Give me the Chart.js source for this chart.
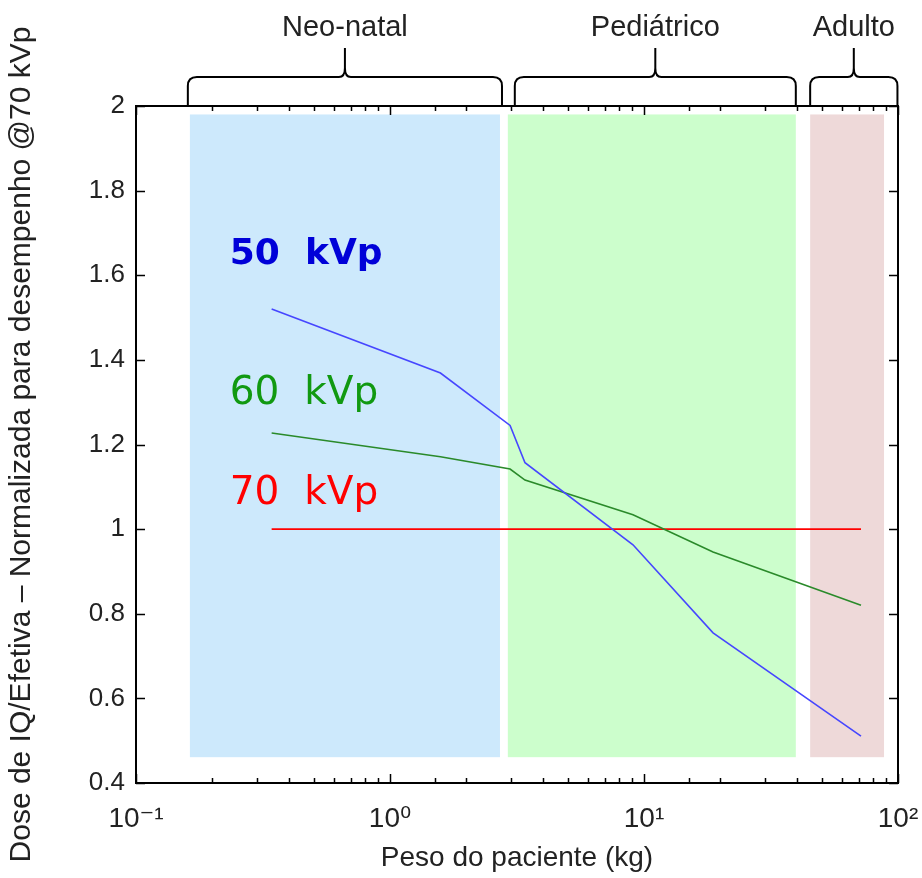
<!DOCTYPE html>
<html><head><meta charset="utf-8">
<script src="https://cdn.jsdelivr.net/npm/chart.js@4.4.0/dist/chart.umd.min.js"></script>
<style>html,body{margin:0;padding:0;background:#fff;}#wrap{width:922px;height:878px;}</style>
</head><body><div id="wrap"><canvas id="c" width="922" height="878"></canvas></div>
<script>
// ---- data ----
const weights = [0.342, 1.58, 2.97, 3.40, 9.05, 18.7, 71.5];
const dose50 = [1.520, 1.369, 1.245, 1.157, 0.963, 0.755, 0.511];
const dose60 = [1.227, 1.171, 1.142, 1.116, 1.034, 0.946, 0.820];
const dose70 = [1, 1, 1, 1, 1, 1, 1];
const seriesNames = ['50  kVp', '60  kVp', '70  kVp'];
const groupNames = ['Neo-natal', 'Pediátrico', 'Adulto'];
const groupStart = [0.163, 2.91, 45.1];
const groupEnd = [2.71, 39.6, 88.1];
const braceStart = [0.160, 3.10, 45.1];
const braceEnd = [2.76, 39.6, 99.5];
const groupYMin = 0.461, groupYMax = 1.98;
const yTickValues = [0.4, 0.6, 0.8, 1, 1.2, 1.4, 1.6, 1.8, 2];

// ---- styles ----
const lineColors = ['#4646ff', '#2a8a2a', '#ff0000'];
const labelColors = ['#0000d8', '#119911', '#ff0000'];
const labelFonts = ['bold 36px "DejaVu Sans"', '39px "DejaVu Sans"', '39px "DejaVu Sans"'];
const labelAnchorX = 0.234;
const labelAnchorY = [1.627, 1.296, 1.060];
const groupColors = ['#cde9fc', '#ccfecc', '#eed9d9'];
const FONT = '"Liberation Sans", Arial, "DejaVu Sans", sans-serif';

const supMap = {'-':'\u207B','0':'\u2070','1':'\u00B9','2':'\u00B2','3':'\u00B3'};
const sup = n => String(n).split('').map(c => supMap[c]).join('');
const isPow10 = v => { const e = Math.log10(v); return Math.abs(e - Math.round(e)) < 1e-6; };

const toPts = ys => weights.map((w, i) => ({x: w, y: ys[i]}));

const bgPlugin = {
  id: 'bg',
  beforeDatasetsDraw(chart) {
    const ctx = chart.ctx, xs = chart.scales.x, ys = chart.scales.y;
    ctx.save();
    groupStart.forEach((s, i) => {
      const x1 = xs.getPixelForValue(s), x2 = xs.getPixelForValue(groupEnd[i]);
      const y1 = ys.getPixelForValue(groupYMax), y2 = ys.getPixelForValue(groupYMin);
      ctx.fillStyle = groupColors[i];
      ctx.fillRect(x1, y1, x2 - x1, y2 - y1);
    });
    ctx.restore();
  }
};

const decoPlugin = {
  id: 'deco',
  afterDraw(chart) {
    const ctx = chart.ctx, xs = chart.scales.x, ys = chart.scales.y;
    const {left, right, top, bottom} = chart.chartArea;
    ctx.save();
    // frame
    ctx.strokeStyle = '#000'; ctx.lineWidth = 2;
    ctx.strokeRect(left, top, right - left, bottom - top);
    // inward ticks
    ctx.lineWidth = 1.5;
    ctx.beginPath();
    xs.ticks.forEach(t => {
      const px = Math.round(xs.getPixelForValue(t.value)) + 0.5;
      const len = isPow10(t.value) ? 9 : 5;
      ctx.moveTo(px, bottom); ctx.lineTo(px, bottom - len);
      ctx.moveTo(px, top); ctx.lineTo(px, top + len);
    });
    ys.ticks.forEach(t => {
      const py = Math.round(ys.getPixelForValue(t.value)) + 0.5;
      ctx.moveTo(left, py); ctx.lineTo(left + 9, py);
      ctx.moveTo(right, py); ctx.lineTo(right - 9, py);
    });
    ctx.stroke();
    // braces
    ctx.lineWidth = 2;
    const yb = top, yh = 77, yt = 48, r = 9;
    braceStart.forEach((s, i) => {
      const x1 = xs.getPixelForValue(s), x2 = xs.getPixelForValue(braceEnd[i]);
      const xm = (x1 + x2) / 2;
      ctx.beginPath();
      ctx.moveTo(x1, yb); ctx.lineTo(x1, yh + r);
      ctx.quadraticCurveTo(x1, yh, x1 + r, yh);
      ctx.lineTo(xm - 6, yh);
      ctx.quadraticCurveTo(xm, yh, xm, yh - 9);
      ctx.lineTo(xm, yt);
      ctx.moveTo(x2, yb); ctx.lineTo(x2, yh + r);
      ctx.quadraticCurveTo(x2, yh, x2 - r, yh);
      ctx.lineTo(xm + 6, yh);
      ctx.quadraticCurveTo(xm, yh, xm, yh - 9);
      ctx.stroke();
      ctx.fillStyle = '#222';
      ctx.font = '29px ' + FONT;
      ctx.textAlign = 'center'; ctx.textBaseline = 'alphabetic';
      ctx.fillText(groupNames[i], xm, 36);
    });
    // series labels
    ctx.textAlign = 'left';
    seriesNames.forEach((n, i) => {
      ctx.fillStyle = labelColors[i];
      ctx.font = labelFonts[i];
      ctx.fillText(n, xs.getPixelForValue(labelAnchorX), ys.getPixelForValue(labelAnchorY[i]));
    });
    ctx.restore();
  }
};

new Chart(document.getElementById('c'), {
  type: 'line',
  data: {
    datasets: [dose50, dose60, dose70].map((d, i) => ({
      label: seriesNames[i], data: toPts(d), borderColor: lineColors[i],
      borderWidth: 1.6, pointRadius: 0, tension: 0, fill: false
    }))
  },
  options: {
    responsive: false, animation: false, devicePixelRatio: 1,
    layout: {padding: {top: 106, right: 24, left: 0, bottom: 0}},
    plugins: {legend: {display: false}, tooltip: {enabled: false}},
    scales: {
      x: {
        type: 'logarithmic', min: 0.1, max: 100,
        grid: {display: false, drawTicks: false},
        border: {display: false},
        ticks: {
          autoSkip: false, maxRotation: 0, padding: 19, color: '#222',
          font: {family: FONT, size: 28},
          callback: v => isPow10(v) ? '10' + sup(Math.round(Math.log10(v))) : ''
        },
        title: {display: true, text: 'Peso do paciente (kg)', color: '#222',
          font: {family: FONT, size: 28}, padding: {top: 0, bottom: 3}},
        afterFit: s => { s.height = 95; s.paddingLeft = 0; s.paddingRight = 0; }
      },
      y: {
        type: 'linear', min: 0.4, max: 2,
        grid: {display: false, drawTicks: false},
        border: {display: false},
        afterBuildTicks: s => { s.ticks = yTickValues.map(v => ({value: v})); },
        ticks: {
          padding: 11, color: '#222', font: {family: FONT, size: 26},
          callback: v => String(+v.toFixed(1))
        },
        title: {display: true, text: 'Dose de IQ/Efetiva \u2013 Normalizada para desempenho @70 kVp',
          color: '#222', font: {family: FONT, size: 30}, padding: {top: 4, bottom: 0}},
        afterFit: s => { s.width = 136; s.paddingTop = 0; s.paddingBottom = 0; }
      }
    }
  },
  plugins: [bgPlugin, decoPlugin]
});
</script></body></html>
